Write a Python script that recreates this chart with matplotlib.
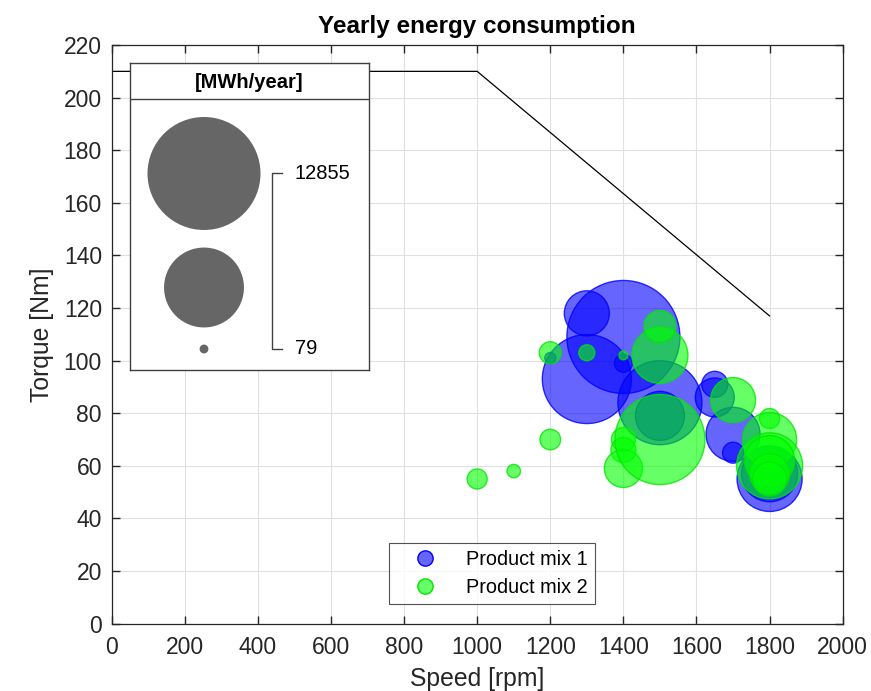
import numpy as np
import matplotlib
matplotlib.use("Agg")
import matplotlib.pyplot as plt
from matplotlib.lines import Line2D

plt.rcParams['font.family'] = ['Liberation Sans', 'DejaVu Sans']

# product mix 1 (speed rpm, torque Nm, energy MWh/year)
speed_1 = [1400, 1300, 1300, 1400, 1500, 1500, 1200, 1650, 1650, 1700, 1700, 1800, 1800]
torque_1 = [109, 93, 118, 99, 84, 79, 101, 91, 86, 72, 65, 55, 57]
energy_1 = [12855, 7975, 2040, 326, 7104, 2417, 122, 680, 1531, 2936, 444, 4254, 3157]

# product mix 2
speed_2 = [1000, 1100, 1200, 1200, 1300, 1400, 1400, 1400, 1400, 1500, 1500, 1500,
           1700, 1800, 1800, 1800, 1800, 1800, 1800]
torque_2 = [55, 58, 70, 103, 103, 102, 70, 66, 59, 70, 102, 113,
            85, 78, 70, 60, 62, 57, 55]
energy_2 = [403, 181, 427, 487, 258, 79, 580, 629, 1454, 8155, 3157, 1031,
            2039, 403, 2936, 4385, 2517, 1611, 1164]

# torque limit curve
limit_speed = [0, 1000, 1800]
limit_torque = [210, 210, 117]

legend_values = [12855, 6428, 79]
legend_labels = ["12855", "79"]

E_MAX = 12855
S_MAX = (2 * 56.5 * 0.72) ** 2   # marker area (pt^2) of the biggest bubble


def bubble(v):
    return S_MAX * np.asarray(v) / E_MAX


fig = plt.figure(figsize=(8.71, 6.91), dpi=100)
ax = fig.add_axes([0.1282, 0.0975, 0.8393, 0.8373])

ax.plot(limit_speed, limit_torque, color='black', lw=0.9, zorder=2)
ax.scatter(speed_1, torque_1, s=bubble(energy_1), facecolor=(0, 0, 1, 0.6),
           edgecolor=(0, 0, 1, 0.8), linewidth=1, zorder=3)
ax.scatter(speed_2, torque_2, s=bubble(energy_2), facecolor=(0, 1, 0, 0.6),
           edgecolor=(0, 0.9, 0, 0.8), linewidth=1, zorder=4)

ax.set_xlim(0, 2000)
ax.set_ylim(0, 220)
ax.set_xticks(np.arange(0, 2001, 200))
ax.set_yticks(np.arange(0, 221, 20))
ax.grid(True, color='#e0e0e0', lw=0.8)
ax.set_axisbelow(True)
ax.tick_params(direction='in', top=True, right=True, labelsize=16.5,
               colors='#262626', length=5.5, width=1)
ax.tick_params(axis='x', pad=9)
ax.tick_params(axis='y', pad=7)
for sp in ax.spines.values():
    sp.set_color('#262626')
    sp.set_linewidth(0.9)
ax.set_xlabel("Speed [rpm]", fontsize=17.8, color='#262626', labelpad=6)
ax.set_ylabel("Torque [Nm]", fontsize=17.8, color='#262626', labelpad=7)
ax.set_title("Yearly energy consumption", fontsize=17.5, fontweight='bold', pad=9)

handles = [
    Line2D([], [], marker='o', ls='', markersize=11, markerfacecolor=(0, 0, 1, 0.6),
           markeredgecolor='blue'),
    Line2D([], [], marker='o', ls='', markersize=11, markerfacecolor=(0, 1, 0, 0.6),
           markeredgecolor=(0, 0.9, 0)),
]
leg = ax.legend(handles, ["Product mix 1", "Product mix 2"], loc='lower center',
                bbox_to_anchor=(0.52, 0.034), fontsize=14.3, frameon=True, fancybox=False,
                edgecolor='#262626', handlelength=3, handletextpad=0.55, borderpad=0.35,
                labelspacing=0.45, borderaxespad=0)
leg.get_frame().set_linewidth(0.8)

# bubble size legend (axes in pixel units)
ins = fig.add_axes([130 / 871, (691 - 370) / 691, 239 / 871, 307 / 691])
ins.set_xlim(0, 239)
ins.set_ylim(307, 0)
ins.set_xticks([])
ins.set_yticks([])
for sp in ins.spines.values():
    sp.set_color('#404040')
    sp.set_linewidth(1)
ins.axhline(36, color='#404040', lw=1)
ins.text(119.5, 20, "[MWh/year]", ha='center', va='center', fontsize=14.5,
         fontweight='bold')
cy = [110.5, 224.5, 286]
ins.scatter([74, 74, 74], cy, s=bubble(legend_values), color='#666666', lw=0, zorder=3)
ins.plot([152, 141.5, 141.5, 152], [cy[0], cy[0], cy[2], cy[2]], color='#404040', lw=1)
ins.text(165, cy[0], legend_labels[0], va='center', fontsize=14.5)
ins.text(165, cy[2], legend_labels[1], va='center', fontsize=14.5)

fig.savefig("out.png", dpi=100)
